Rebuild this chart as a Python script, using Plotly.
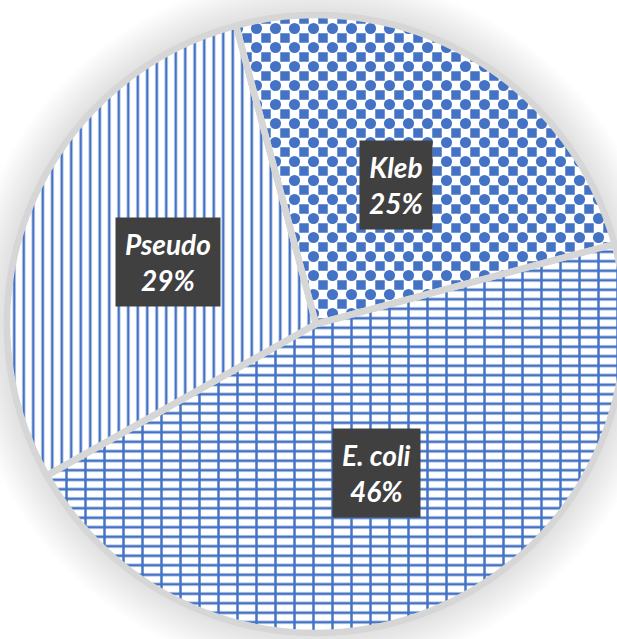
import plotly.graph_objects as go
import math

# ---- data ----
labels = ["Kleb", "E. coli", "Pseudo"]
values = [25, 46, 29]

# ---- styling ----
BLUE = "#4472C4"
W, H = 632, 639
CX, CY, R = 316, 324, 309          # pie centre / radius in px (top-left origin)
ROTATION = -15

dx0, dx1 = (CX - R) / W, (CX + R) / W
dy0, dy1 = 1 - (CY + R) / H, 1 - (CY - R) / H

fig = go.Figure()

# base layer: lines / grid patterns
fig.add_trace(go.Pie(
    labels=labels, values=values, sort=False, direction="clockwise",
    rotation=ROTATION, textinfo="none", hoverinfo="label+percent",
    domain=dict(x=[dx0, dx1], y=[dy0, dy1]), showlegend=False,
    marker=dict(
        colors=["white", "white", "white"],
        line=dict(width=0),
        pattern=dict(
            shape=["+", "-", "|"],
            fgcolor=["white", BLUE, BLUE],
            bgcolor=[BLUE, "white", "white"],
            size=[19, 9.5, 9.5],
            solidity=[0.75, 0.28, 0.27],
            fillmode="replace",
        ),
    ),
))

# overlay layer: checker dots / brick joints, plus separators
fig.add_trace(go.Pie(
    labels=labels, values=values, sort=False, direction="clockwise",
    rotation=ROTATION, textinfo="none", hoverinfo="skip",
    domain=dict(x=[dx0, dx1], y=[dy0, dy1]), showlegend=False,
    marker=dict(
        colors=["rgba(0,0,0,0)"] * 3,
        line=dict(width=6.5, color="#d6d6d6"),
        pattern=dict(
            shape=[".", "|", ""],
            fgcolor=[BLUE, BLUE, BLUE],
            bgcolor=["rgba(0,0,0,0)"] * 3,
            size=[19, 19, 19],
            solidity=[0.27, 0.13, 0.1],
            fillmode="replace",
        ),
    ),
))

# soft shadow behind the pie
shapes = []
for k in range(16):
    d = 2 + k * 2.6
    shapes.append(dict(
        type="circle", xref="paper", yref="paper", layer="below",
        x0=(CX - R - d) / W, x1=(CX + R + d) / W,
        y0=1 - (CY + R + d) / H, y1=1 - (CY - R - d) / H,
        fillcolor="rgba(0,0,0,0.009)", line=dict(width=0),
    ))

# data labels in dark boxes, placed along each slice's mid-angle
total = sum(values)
annotations = []
start = ROTATION
for lab, v in zip(labels, values):
    span = v / total * 360
    mid = math.radians(start + span / 2)
    start += span
    px = CX + 0.52 * R * math.sin(mid)
    py = CY - 0.52 * R * math.cos(mid)
    annotations.append(dict(
        x=px / W, y=1 - py / H, xref="paper", yref="paper",
        xanchor="center", yanchor="middle",
        text=f"{lab}<br>{round(v / total * 100)}%", showarrow=False,
        bgcolor="#404040", borderpad=9, align="center",
        font=dict(family="Lato, Open Sans, sans-serif", size=28, color="white",
                  style="italic", weight="bold"),
    ))

fig.update_layout(
    width=W, height=H, margin=dict(l=0, r=0, t=0, b=0),
    paper_bgcolor="white", plot_bgcolor="white",
    shapes=shapes, annotations=annotations,
)

fig.write_html(
    "out.html",
    config={"displayModeBar": False},
    post_script="document.documentElement.style.overflow='hidden';"
                "document.body.style.overflow='hidden';document.body.style.margin='0';",
)
